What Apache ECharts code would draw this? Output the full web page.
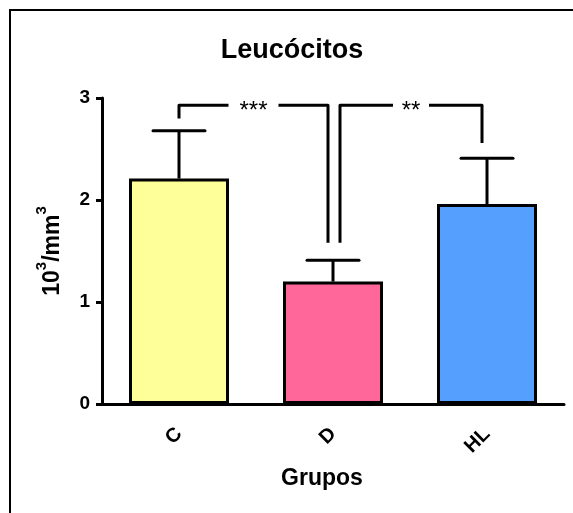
<!DOCTYPE html>
<html>
<head>
<meta charset="utf-8">
<script src="https://cdn.jsdelivr.net/npm/echarts@6/dist/echarts.min.js"></script>
<style>
html,body{margin:0;padding:0;background:#fff;}
#chart{width:573px;height:513px;}
</style>
</head>
<body>
<div id="chart"></div>
<script>
// ---- data ----
const categories = ['C', 'D', 'HL'];
const means = [2.21, 1.20, 1.96];
const errors = [0.47, 0.21, 0.45];
const barColors = ['#FFFF99', '#FF6699', '#559FFF'];
const yTicks = [0, 1, 2, 3];
// significance brackets
const bracketFrom = [0, 1];
const bracketTo = [1, 2];
const bracketLevel = [2.93, 2.93];
const bracketLeftEnd = [2.80, 1.58];
const bracketRightEnd = [1.58, 2.56];
const bracketLabels = ['***', '**'];

const FONT = 'Liberation Sans, Arial, sans-serif';
const chart = echarts.init(document.getElementById('chart'), null, {renderer: 'canvas'});

const barData = means.map((v, i) => ({
  value: v,
  itemStyle: {color: barColors[i], borderColor: '#000', borderWidth: 3}
}));
const errData = means.map((v, i) => [i, v, v + errors[i]]);
const brData = bracketFrom.map((f, i) => [f, bracketTo[i], bracketLevel[i], bracketLeftEnd[i], bracketRightEnd[i], i]);

const option = {
  animation: false,
  backgroundColor: '#fff',
  grid: {left: 102, right: 9, top: 98, bottom: 109, containLabel: false},
  graphic: [
    {type: 'rect', shape: {x: 10, y: 10, width: 700, height: 700}, style: {fill: 'none', stroke: '#000', lineWidth: 2}, z: 100},
    {type: 'text', x: 292, y: 51, style: {text: 'Leucócitos', font: 'bold 27px ' + FONT, fill: '#000', textAlign: 'center', textVerticalAlign: 'middle'}}
  ],
  xAxis: {
    type: 'category',
    data: categories,
    boundaryGap: true,
    name: 'Grupos',
    nameLocation: 'middle',
    nameGap: 63,
    nameTextStyle: {fontFamily: FONT, fontWeight: 'bold', fontSize: 23, color: '#000', padding: [0, 22, 0, 0]},
    axisLine: {lineStyle: {color: '#000', width: 3}},
    axisTick: {alignWithLabel: true, length: 6, lineStyle: {color: '#000', width: 3}},
    axisLabel: {rotate: 45, margin: 27, fontFamily: FONT, fontWeight: 'bold', fontSize: 20, color: '#000'},
    splitLine: {show: false}
  },
  yAxis: {
    type: 'value',
    min: 0, max: 3, interval: 1,
    name: '{a|10}{s|3}{a|/mm}{s|3}',
    nameLocation: 'middle',
    nameRotate: 90,
    nameGap: 38,
    nameTextStyle: {
      color: '#000',
      rich: {
        a: {fontFamily: FONT, fontWeight: 'bold', fontSize: 23, color: '#000', verticalAlign: 'bottom', lineHeight: 30},
        s: {fontFamily: FONT, fontWeight: 'bold', fontSize: 15, color: '#000', verticalAlign: 'top', lineHeight: 30}
      }
    },
    axisLine: {show: true, lineStyle: {color: '#000', width: 3}},
    axisTick: {show: true, length: 6, lineStyle: {color: '#000', width: 3}},
    axisLabel: {margin: 12, fontFamily: FONT, fontWeight: 'bold', fontSize: 19, color: '#000',
      formatter: v => yTicks.includes(v) ? String(v) : ''},
    splitLine: {show: false}
  },
  series: [
    {
      type: 'bar',
      data: barData,
      barWidth: 100,
      z: 2
    },
    {
      type: 'custom',
      data: errData,
      z: 3,
      renderItem: (params, api) => {
        const x = api.value(0);
        const b = api.coord([x, api.value(1)]);
        const t = api.coord([x, api.value(2)]);
        const hw = 26;
        return {
          type: 'group',
          children: [
            {type: 'line', shape: {x1: b[0], y1: b[1], x2: t[0], y2: t[1]}, style: {stroke: '#000', lineWidth: 3}},
            {type: 'line', shape: {x1: t[0] - hw, y1: t[1], x2: t[0] + hw, y2: t[1]}, style: {stroke: '#000', lineWidth: 3, lineCap: 'round'}}
          ]
        };
      }
    },
    {
      type: 'custom',
      data: brData,
      z: 4,
      clip: false,
      renderItem: (params, api) => {
        const f = api.value(0), to = api.value(1);
        const lvl = api.value(2), le = api.value(3), re = api.value(4);
        const idx = api.value(5);
        const leftOff = f === 0 ? 0 : 7;
        const rightOff = -5;
        const pL = api.coord([f, lvl]);
        const pR = api.coord([to, lvl]);
        const xL = pL[0] + leftOff, xR = pR[0] + rightOff, y = pL[1];
        const yLE = api.coord([f, le])[1];
        const yRE = api.coord([to, re])[1];
        const label = bracketLabels[idx];
        const mid = (xL + xR) / 2;
        const gap = 7 * label.length + 4;
        const st = {stroke: '#000', lineWidth: 3, fill: 'none', lineJoin: 'round'};
        return {
          type: 'group',
          children: [
            {type: 'polyline', shape: {points: [[xL, yLE], [xL, y], [mid - gap, y]]}, style: st},
            {type: 'polyline', shape: {points: [[mid + gap, y], [xR, y], [xR, yRE]]}, style: st},
            {type: 'text', x: mid, y: y + 6, style: {text: label, font: '24px ' + FONT, fill: '#000', textAlign: 'center', textVerticalAlign: 'middle'}}
          ]
        };
      }
    }
  ]
};
chart.setOption(option);
</script>
</body>
</html>
